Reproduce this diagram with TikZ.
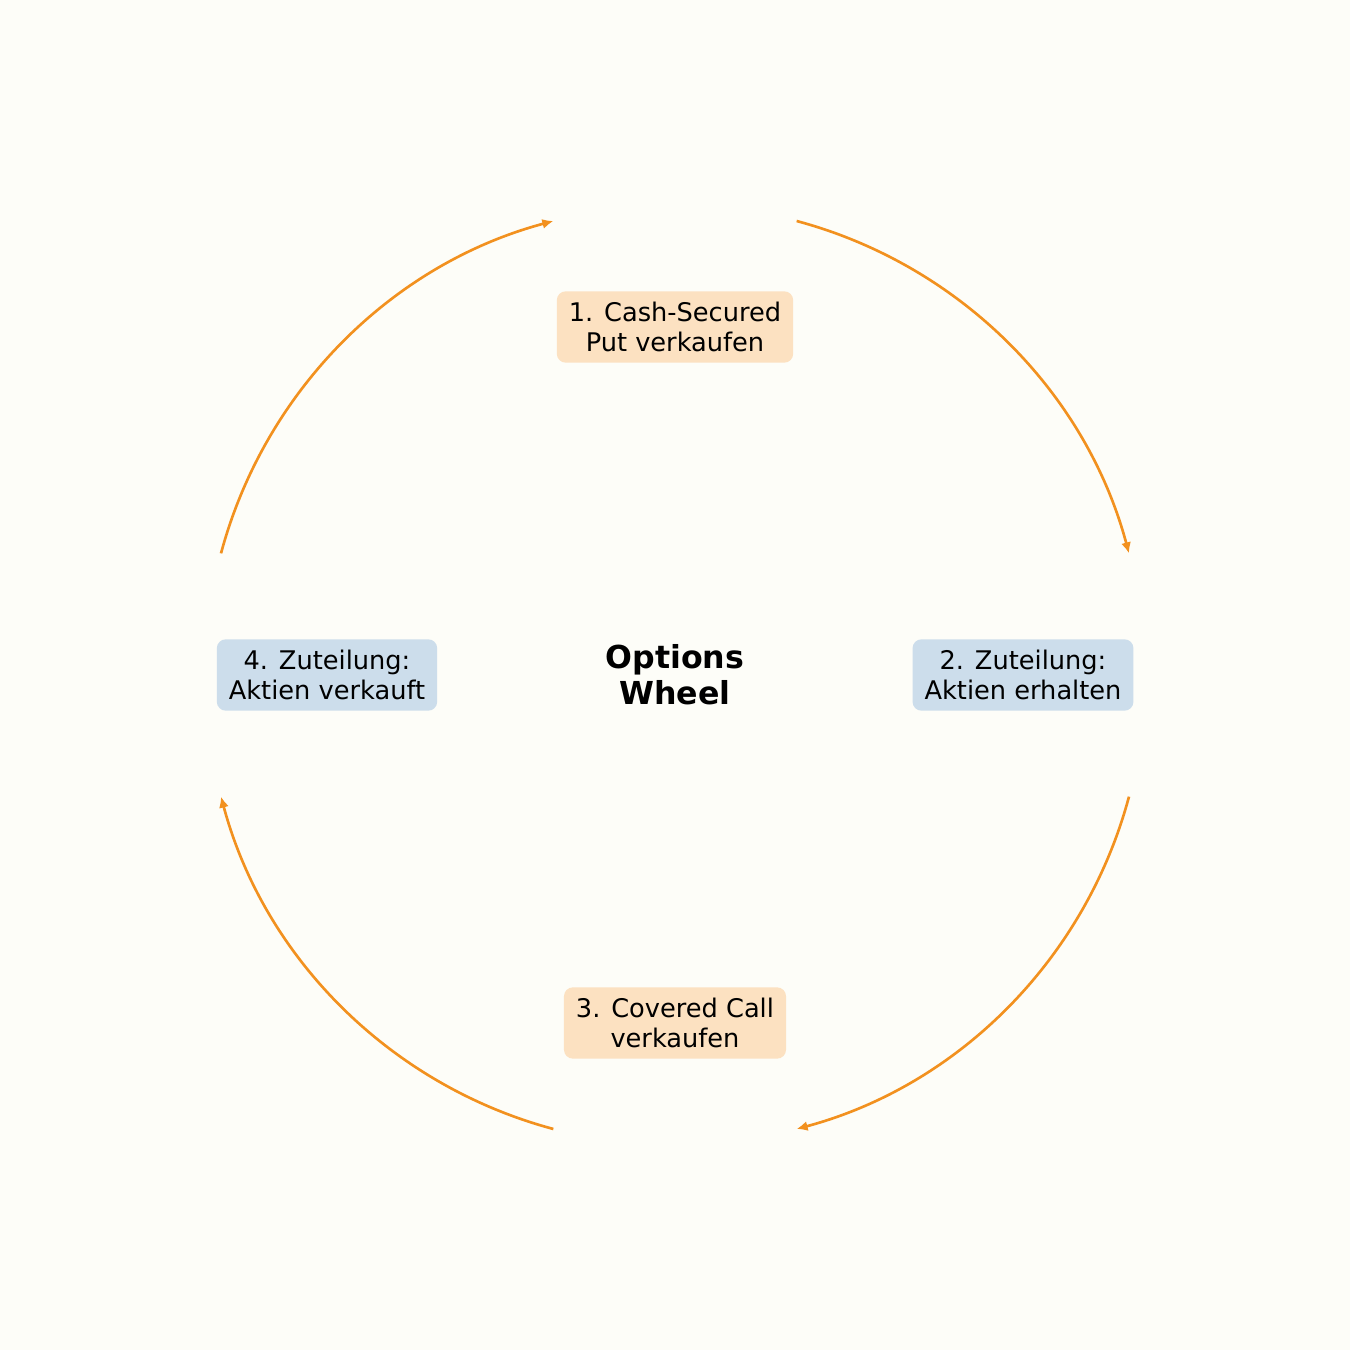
\documentclass[tikz,border=0pt]{standalone}
\usepackage{fontspec}
\setmainfont{DejaVu Sans}
\usetikzlibrary{arrows.meta}
\definecolor{bgcol}{HTML}{FDFDF8}
\definecolor{stepor}{HTML}{FCE1C1}
\definecolor{stepbl}{HTML}{CCDDEB}
\definecolor{arrowor}{HTML}{F2911F}
\begin{document}
\begin{tikzpicture}[
    box/.style={rectangle,rounded corners=0.9mm,align=center,font=\fontsize{7.3}{8.4}\selectfont,inner xsep=1.2mm,inner ysep=1.1mm},
    put/.style={box,fill=stepor},
    assign/.style={box,fill=stepbl},
    cycle/.style={draw=arrowor,line width=0.75pt,-{Latex[length=1.1mm,width=1mm]}},
]
\fill[bgcol] (0,0) rectangle (13.5,13.5);
\useasboundingbox (0,0) rectangle (13.5,13.5);
\coordinate (c) at (6.75,6.75);

\node[put] (s1) at (6.75,10.23) {1. Cash-Secured\\Put verkaufen};
\node[assign] (s2) at (10.23,6.75) {2. Zuteilung:\\Aktien erhalten};
\node[put] (s3) at (6.75,3.27) {3. Covered Call\\verkaufen};
\node[assign] (s4) at (3.27,6.75) {4. Zuteilung:\\Aktien verkauft};
\node[font=\fontsize{9}{10.3}\selectfont\bfseries,align=center] (hub) at (c) {Options\\Wheel};

% arcs between the steps
\foreach \a in {75,-15,-105,-195}
    \draw[cycle] ([shift={(\a:4.7)}]c) arc[start angle=\a,delta angle=-60,radius=4.7];
\end{tikzpicture}
\end{document}
